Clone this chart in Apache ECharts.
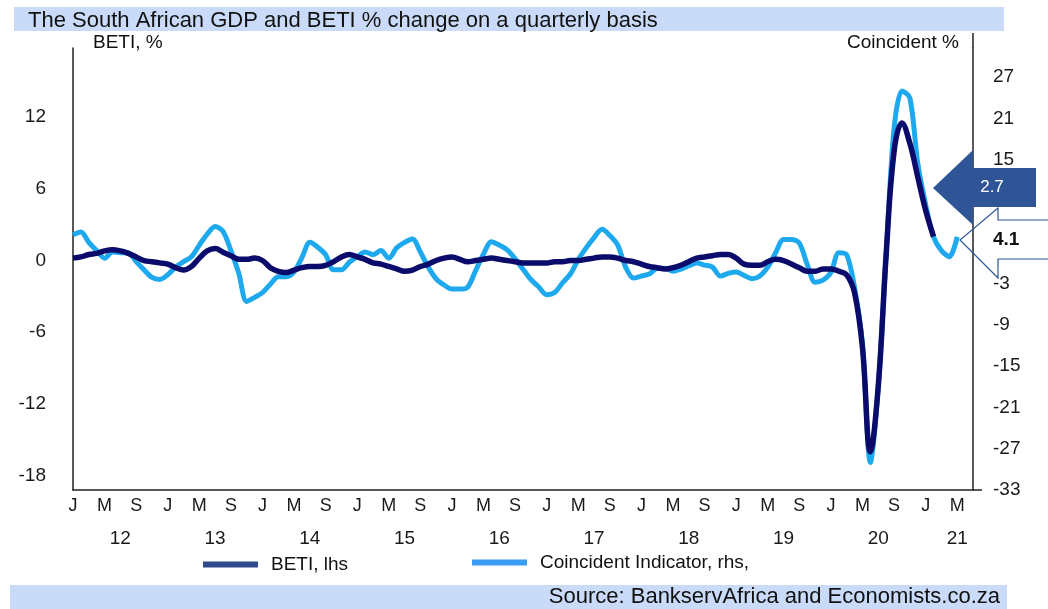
<!DOCTYPE html>
<html>
<head>
<meta charset="utf-8">
<script src="https://cdn.jsdelivr.net/npm/echarts@6/dist/echarts.min.js"></script>
<style>
  html, body { margin: 0; padding: 0; background: #fff; }
  #chart { width: 1048px; height: 609px; }
</style>
</head>
<body>
<div id="chart"></div>
<script>
// monthly % change, Jan 2012 onwards
const betiValues = [
  0.2, 0.3, 0.5, 0.6, 0.8, 0.9, 0.8, 0.6, 0.3, 0.0, -0.1, -0.2,     // 2012
  -0.3, -0.6, -0.8, -0.5, 0.2, 0.8, 1.0, 0.7, 0.4, 0.1, 0.1, 0.2,   // 2013
  0.0, -0.6, -0.9, -1.0, -0.8, -0.6, -0.5, -0.5, -0.4, -0.1, 0.3, 0.5, // 2014
  0.3, 0.1, -0.2, -0.3, -0.5, -0.7, -0.9, -0.8, -0.5, -0.3, 0.0, 0.2,  // 2015
  0.3, 0.1, -0.1, 0.0, 0.1, 0.2, 0.1, 0.0, -0.1, -0.2, -0.2, -0.2,     // 2016
  -0.2, -0.1, -0.1, 0.0, 0.0, 0.1, 0.2, 0.3, 0.3, 0.2, 0.0, -0.1,      // 2017
  -0.3, -0.5, -0.6, -0.7, -0.6, -0.4, -0.1, 0.2, 0.3, 0.4, 0.5, 0.5,   // 2018
  0.2, -0.3, -0.4, -0.4, -0.1, 0.1, 0.0, -0.3, -0.6, -0.9, -0.9, -0.7, // 2019
  -0.7, -0.9, -1.2, -2.7, -7.3, -16.0, -10.5, 0.5, 9.1, 11.5, 9.8, 7.0, // 2020
  4.2, 2.0                                                               // 2021
];
const coincidentValues = [
  4.1, 4.5, 3.0, 1.8, 0.7, 1.6, 1.5, 1.5, 0.2, -1.0, -2.1, -2.4,       // 2012
  -1.7, -0.6, 0.2, 0.9, 2.6, 4.2, 5.3, 4.6, 1.8, -1.5, -5.6, -5.0,     // 2013
  -4.3, -3.1, -2.0, -2.0, -1.3, 0.8, 3.0, 2.3, 1.2, -1.0, -1.0, 0.1,   // 2014
  0.9, 1.6, 1.2, 1.8, 0.7, 2.2, 3.0, 3.5, 1.6, -0.6, -2.3, -3.2,       // 2015
  -3.8, -3.8, -3.5, -1.1, 1.3, 3.1, 2.6, 1.9, 0.6, -0.9, -2.4, -3.5,   // 2016
  -4.6, -4.3, -2.9, -1.6, 0.5, 2.2, 3.7, 4.9, 4.0, 2.6, -0.6, -2.2,    // 2017
  -1.9, -1.6, -0.8, -0.8, -1.2, -0.9, -0.4, 0.0, -0.3, -0.6, -1.9, -1.5, // 2018
  -1.3, -1.8, -2.3, -1.9, -0.6, 1.5, 3.4, 3.4, 2.9, -0.2, -2.8, -2.5,  // 2019
  -1.4, 1.5, 1.2, -3.6, -11.8, -29.0, -18.0, 1.3, 19.5, 25.0, 24.0, 14.5, // 2020
  8.5, 3.8, 1.8, 0.9, 3.8                                                 // 2021
];

// axis categories: Jan 2012 .. Jul 2021
const months = [];
for (let y = 2012; y <= 2021; y++) {
  for (let m = 1; m <= 12; m++) {
    if (y === 2021 && m > 7) break;
    months.push(y + '-' + (m < 10 ? '0' + m : m));
  }
}
const monthLetters = { '01': 'J', '05': 'M', '09': 'S' };
const yearLabelIdx = [6, 18, 30, 42, 54, 66, 78, 90, 102, 112];
const leftTicks = [-18, -12, -6, 0, 6, 12];
const rightTicks = [-33, -27, -21, -15, -9, -3, 15, 21, 27];
const latestBeti = '2.7';
const latestCoincident = '4.1';

const font = 'Liberation Sans, Arial, sans-serif';
const chart = echarts.init(document.getElementById('chart'));

chart.setOption({
  animation: false,
  textStyle: { fontFamily: font },
  grid: { left: 73, right: 75, top: 48, bottom: 119 },
  legend: [
    {
      left: 198, top: 550, icon: 'rect', itemWidth: 55, itemHeight: 6, selectedMode: false,
      data: [{ name: 'BETI, lhs', itemStyle: { color: '#2f4b8b' } }],
      textStyle: { fontSize: 19, color: '#111', fontFamily: font, padding: [0, 0, 0, 8] }
    },
    {
      left: 467, top: 548, icon: 'rect', itemWidth: 55, itemHeight: 6, selectedMode: false,
      data: [{ name: 'Coincident Indicator, rhs,', itemStyle: { color: '#3b9cf4' } }],
      textStyle: { fontSize: 19, color: '#111', fontFamily: font, padding: [0, 0, 0, 8] }
    }
  ],
  xAxis: [
    {
      type: 'category', data: months, boundaryGap: false,
      axisLine: { onZero: false, lineStyle: { color: '#222', width: 1.5 } },
      axisTick: { show: false },
      axisLabel: {
        interval: (i, v) => monthLetters[v.slice(5)] !== undefined,
        formatter: v => monthLetters[v.slice(5)] || '',
        fontSize: 18, color: '#1a1a1a', margin: 7, fontFamily: font
      }
    },
    {
      type: 'category', data: months, boundaryGap: false, position: 'bottom', offset: 32,
      axisLine: { show: false, onZero: false }, axisTick: { show: false },
      axisLabel: {
        interval: i => yearLabelIdx.indexOf(i) >= 0,
        formatter: v => v.slice(2, 4),
        fontSize: 19, color: '#1a1a1a', margin: 7, fontFamily: font
      }
    }
  ],
  yAxis: [
    {
      type: 'value', position: 'left', min: -19.19, max: 17.77,
      axisLine: { show: true, lineStyle: { color: '#222', width: 1.5 } },
      axisTick: { show: false }, splitLine: { show: false },
      axisLabel: { customValues: leftTicks, fontSize: 19, color: '#1a1a1a', margin: 27, fontFamily: font }
    },
    {
      type: 'value', position: 'right', min: -33, max: 31.25,
      axisLine: { show: true, lineStyle: { color: '#222', width: 1.5 } },
      axisTick: { show: false }, splitLine: { show: false },
      axisLabel: { customValues: rightTicks, fontSize: 19, color: '#1a1a1a', margin: 20, fontFamily: font }
    }
  ],
  series: [
    {
      name: 'Coincident Indicator, rhs,', type: 'line', yAxisIndex: 1, data: coincidentValues,
      smooth: 0.3, showSymbol: false,
      lineStyle: { color: '#1ea9ef', width: 5 }, itemStyle: { color: '#1ea9ef' }
    },
    {
      name: 'BETI, lhs', type: 'line', yAxisIndex: 0, data: betiValues,
      smooth: 0.4, showSymbol: false,
      lineStyle: { color: '#0b0b6b', width: 5.5 }, itemStyle: { color: '#0b0b6b' }
    }
  ],
  graphic: [
    { type: 'rect', z: -1, shape: { x: 14, y: 7, width: 990, height: 24 }, style: { fill: '#c9dbf8' } },
    { type: 'rect', z: -1, shape: { x: 10, y: 585, width: 997, height: 24 }, style: { fill: '#c9dbf8' } },
    { type: 'text', x: 28, y: 21, style: { text: 'The South African GDP and BETI % change on a quarterly basis', fontSize: 22, fontFamily: font, fill: '#111', verticalAlign: 'middle' } },
    { type: 'text', x: 1000, y: 597, style: { text: 'Source: BankservAfrica and Economists.co.za', fontSize: 22, fontFamily: font, fill: '#111', align: 'right', verticalAlign: 'middle' } },
    { type: 'text', x: 93, y: 43, style: { text: 'BETI, %', fontSize: 19, fontFamily: font, fill: '#111', verticalAlign: 'middle' } },
    { type: 'text', x: 959, y: 43, style: { text: 'Coincident %', fontSize: 19, fontFamily: font, fill: '#111', align: 'right', verticalAlign: 'middle' } },
    { type: 'line', shape: { x1: 973, y1: 33, x2: 973, y2: 48 }, style: { stroke: '#222', lineWidth: 1.5 } },
    { type: 'line', shape: { x1: 973, y1: 490, x2: 982, y2: 490 }, style: { stroke: '#222', lineWidth: 1.5 } },
    {
      type: 'polygon', z: 100,
      shape: { points: [[933, 188], [973, 150], [973, 168], [1036, 168], [1036, 207], [973, 207], [973, 225]] },
      style: { fill: '#2f5597' }
    },
    { type: 'text', z: 101, x: 992, y: 187, style: { text: latestBeti, fontSize: 17, fontFamily: font, fill: '#fff', align: 'center', verticalAlign: 'middle' } },
    {
      type: 'polyline', z: 100,
      shape: { points: [[1048, 220], [998, 220], [998, 208], [960, 240], [998, 278], [998, 259], [1048, 259]] },
      style: { stroke: '#2f5597', lineWidth: 1.2, fill: null }
    },
    { type: 'text', z: 101, x: 993, y: 240, style: { text: latestCoincident, fontSize: 19, fontWeight: 'bold', fontFamily: font, fill: '#111', verticalAlign: 'middle' } }
  ]
});
</script>
</body>
</html>
